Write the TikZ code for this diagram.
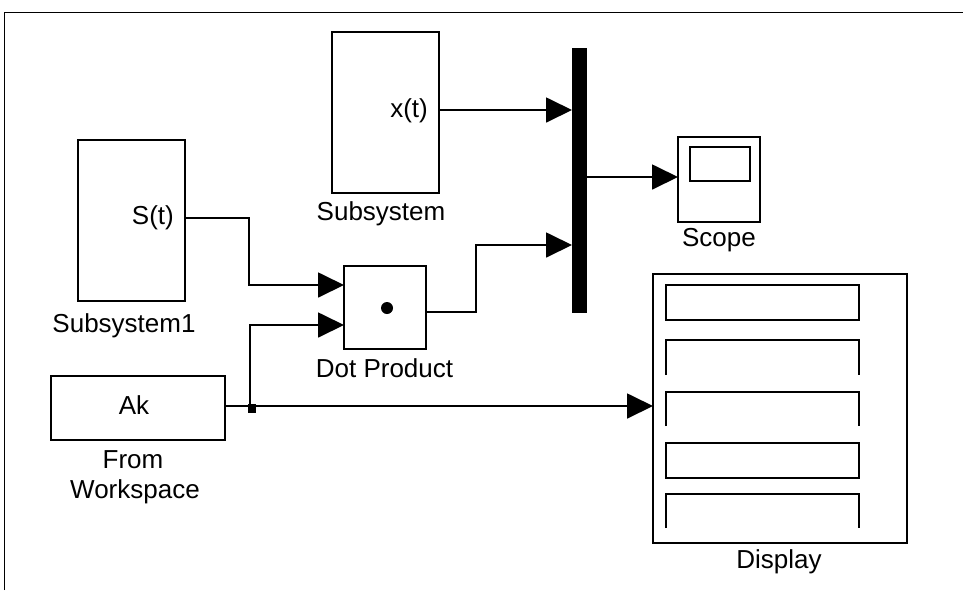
\documentclass[tikz,border=0pt]{standalone}
\usepackage{fontspec}
\setmainfont{Liberation Sans}
\usetikzlibrary{arrows.meta,calc}
\begin{document}
\begin{tikzpicture}[x=1pt,y=-1pt,
  blk/.style={draw,line width=1.8pt,inner sep=0pt,fill=white},
  sig/.style={line width=1.8pt},
  arr/.style={sig,-{Triangle[length=26pt,width=25pt]}},
  lbl/.style={inner sep=0pt,font=\fontsize{26}{31}\selectfont},
  thinbox/.style={line width=1.8pt}]
\useasboundingbox (0,0) rectangle (963,590);
\fill[white] (0,0) rectangle (963,590);
% outer frame
\draw[line width=1pt] (4,590) -- (4,12) -- (963,12);
% blocks
\node[blk,minimum width=107pt,minimum height=161pt] (sub) at (385.5,112.5) {};
\node[blk,minimum width=107pt,minimum height=161pt] (sub1) at (131.5,220.5) {};
\node[draw,fill=black,line width=1pt,inner sep=0pt,minimum width=14pt,minimum height=264pt] (mux) at (579.5,180.5) {};
\node[blk,minimum width=82pt,minimum height=85pt] (scope) at (719,179.5) {};
\node[blk,minimum width=60pt,minimum height=34pt] (screen) at (720,164) {};
\node[blk,minimum width=82pt,minimum height=83pt] (dot) at (385,307.5) {};
\node[fill=black,circle,inner sep=0pt,minimum size=12pt] (dotsym) at (387,308) {};
\node[blk,minimum width=174pt,minimum height=64pt] (ws) at (138,408) {};
\node[blk,minimum width=254pt,minimum height=269pt] (disp) at (780,408.5) {};
% display inner fields
\draw[thinbox] (666,285) rectangle (859,320);
\draw[thinbox] (666,375) -- (666,340) -- (859,340) -- (859,375);
\draw[thinbox] (666,426) -- (666,392) -- (859,392) -- (859,426);
\draw[thinbox] (666,443) rectangle (859,478);
\draw[thinbox] (666,528) -- (666,494) -- (859,494) -- (859,528);
% texts
\node[lbl,anchor=east] (xt) at (428,111) {x(t)};
\node[lbl,anchor=east] (st) at (174,218) {S(t)};
\node[lbl,anchor=base] (tsub) at (381,220) {Subsystem};
\node[lbl,anchor=base] (tsub1) at (124,332) {Subsystem1};
\node[lbl,anchor=base] (tdot) at (384.5,377) {Dot Product};
\node[lbl,anchor=base] (tak) at (134,414) {Ak};
\node[lbl,anchor=base] (tfrom) at (133,468) {From};
\node[lbl,anchor=base] (tws) at (135,498) {Workspace};
\node[lbl,anchor=base] (tscope) at (719,246) {Scope};
\node[lbl,anchor=base] (tdisp) at (779,568) {Display};
% ports
\coordinate (xo) at (439,110);
\coordinate (m1) at (572,110);
\coordinate (so) at (185,218);
\coordinate (sb) at (249,218);
\coordinate (d1) at (344,285);
\coordinate (d2) at (344,325);
\coordinate (dout) at (426,312);
\coordinate (dk) at (476,312);
\coordinate (m2) at (572,245);
\coordinate (mo) at (587,177);
\coordinate (sci) at (678,177);
\coordinate (wo) at (225,406);
\coordinate (br) at (250,406);
\coordinate (di) at (653,406);
% connectors
\draw[arr] (xo) -- (m1);
\draw[arr] (mo) -- (sci);
\draw[arr] (so) -- (sb) |- (d1);
\draw[arr] (dout) -- (dk) |- (m2);
\draw[arr] (wo) -- (di);
\draw[arr] (br) |- (d2);
\node[fill=black,inner sep=0pt,minimum width=8pt,minimum height=9pt] (jn) at (252,408.5) {};
\end{tikzpicture}
\end{document}
